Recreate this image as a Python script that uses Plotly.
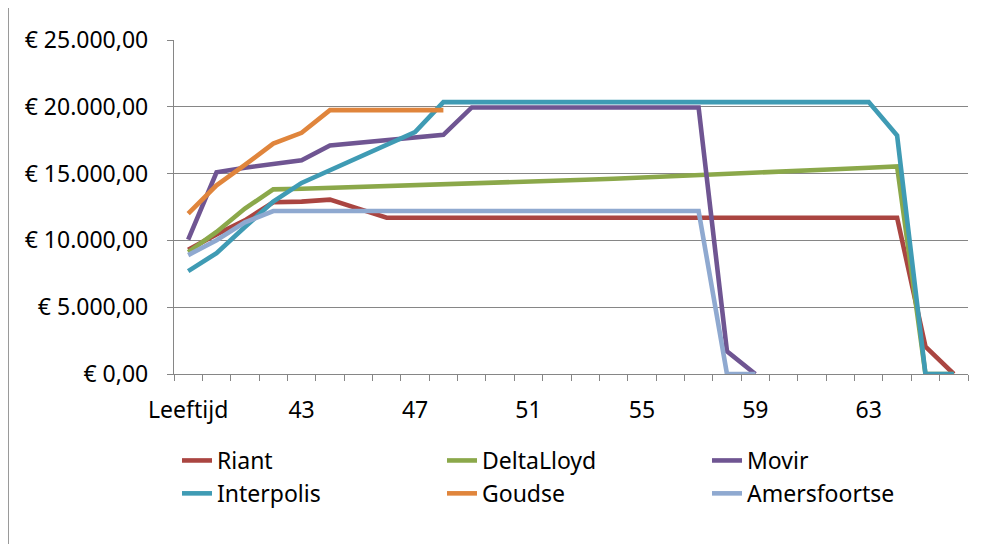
import plotly.graph_objects as go

ages = ["Leeftijd"] + [str(a) for a in range(40, 67)]

riant = [9300, 10450, 11500, 12850, 12900, 13050, 12380,
         11700, 11700, 11700, 11700, 11700, 11700, 11700, 11700, 11700, 11700,
         11700, 11700, 11700, 11700, 11700, 11700, 11700, 11700, 11700,
         2050, 0]
deltalloyd = [9130, 10630, 12380, 13820, 13870, 13930, 13990, 14050, 14110, 14180,
              14250, 14320, 14390, 14460, 14540, 14620, 14700, 14790, 14880, 14970,
              15060, 15150, 15240, 15340, 15440, 15540, 0, 0]
movir = [10050, 15100, 15440, 15700, 16000, 17100, 17300, 17500, 17700, 17900,
         19950, 19950, 19950, 19950, 19950, 19950, 19950, 19950, 19950,
         1700, 0, None, None, None, None, None, None, None]
interpolis = [7700, 9050, 11000, 12900, 14300, 15250, 16200, 17150, 18100,
              20350, 20350, 20350, 20350, 20350, 20350, 20350, 20350,
              20350, 20350, 20350, 20350, 20350, 20350, 20350, 20350,
              17850, 0, 0]
goudse = [12000, 14120, 15650, 17250, 18050, 19750, 19750, 19750, 19750, 19750,
          None, None, None, None, None, None, None, None, None, None,
          None, None, None, None, None, None, None, None]
amersfoortse = [8900, 10010, 11350, 12200,
                12200, 12200, 12200, 12200, 12200, 12200, 12200, 12200,
                12200, 12200, 12200, 12200, 12200, 12200, 12200,
                0, 0, None, None, None, None, None, None, None]

series_names = ["Riant", "DeltaLloyd", "Movir", "Interpolis", "Goudse", "Amersfoortse"]
series_values = [riant, deltalloyd, movir, interpolis, goudse, amersfoortse]
colors = ["#AA4541", "#8BA84A", "#6F5592", "#3F9BB4", "#E0853C", "#8FA9D0"]

y_tickvals = [0, 5000, 10000, 15000, 20000, 25000]
y_ticktext = ["€ 0,00", "€ 5.000,00", "€ 10.000,00", "€ 15.000,00", "€ 20.000,00", "€ 25.000,00"]

idx = list(range(len(ages)))
label_idx = idx[::4]
label_txt = [ages[i] for i in label_idx]

FONT = "Noto Sans"
FS = 23
fig = go.Figure()
for name, vals, col in zip(series_names, series_values, colors):
    fig.add_trace(go.Scatter(x=idx, y=vals, mode="lines", name=name,
                             line=dict(color=col, width=4.6),
                             connectgaps=False))

OFF = 8  # page body margin
W, H = 982 - OFF, 544 - OFF
L, R, T, B = 174 - OFF, 968 - OFF, 40 - OFF, 374 - OFF
fig.update_layout(
    width=W, height=H,
    margin=dict(l=L, r=W - R, t=T, b=H - B, autoexpand=False),
    paper_bgcolor="white", plot_bgcolor="white",
    font=dict(family=FONT, size=FS, color="#000000"),
    showlegend=True,
    legend=dict(orientation="h", xref="container", x=(177 - OFF) / W, xanchor="left",
                yref="container", y=1 - (439 - OFF) / H, yanchor="top",
                entrywidth=220, entrywidthmode="pixels",
                font=dict(family=FONT, size=FS), itemwidth=30,
                bgcolor="rgba(0,0,0,0)"),
    xaxis=dict(range=[-0.5, len(ages) - 0.5], tickmode="array",
               tickvals=label_idx, ticktext=label_txt, ticks="",
               showgrid=False, zeroline=False, automargin=False,
               showline=True, linecolor="#868686", linewidth=1.3,
               ticklabelstandoff=15,
               minor=dict(tickmode="linear", tick0=-0.5, dtick=1, ticks="outside",
                          ticklen=6, tickcolor="#868686", tickwidth=1.3, showgrid=False),
               tickfont=dict(family=FONT, size=FS)),
    yaxis=dict(range=[0, 25000], tickmode="array", tickvals=y_tickvals,
               ticktext=y_ticktext, ticks="outside", ticklen=6, tickcolor="#868686",
               tickwidth=1.3, showgrid=True, gridcolor="#868686", gridwidth=1.3,
               zeroline=False, showline=True, linecolor="#868686", linewidth=1.3,
               ticklabelstandoff=14, automargin=False,
               tickfont=dict(family=FONT, size=FS)),
)

# outer chart border (left edge)
fig.add_shape(type="line", xref="paper", yref="paper",
              x0=(0.5 - L) / (R - L), x1=(0.5 - L) / (R - L),
              y0=(B - 600) / (B - T), y1=(B + 20) / (B - T),
              line=dict(color="#9A9A9A", width=1))

fig.write_html("out.html")
